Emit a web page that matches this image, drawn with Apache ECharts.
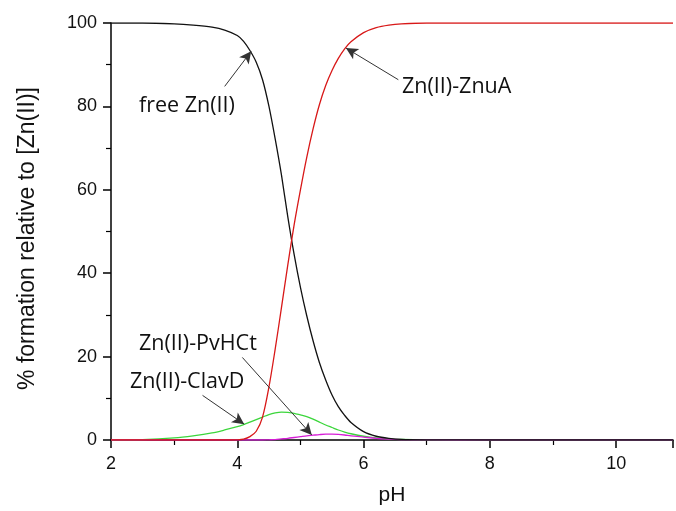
<!DOCTYPE html>
<html>
<head>
<meta charset="utf-8">
<script src="https://cdn.jsdelivr.net/npm/echarts@6/dist/echarts.min.js"></script>
<style>
  html, body { margin: 0; padding: 0; background: #fff; }
  #chart { width: 676px; height: 511px; }
</style>
</head>
<body>
<div id="chart"></div>
<script>
// pH sampling points
const phValues = [2, 2.5, 3, 3.3, 3.6, 3.8, 4.0, 4.1, 4.2, 4.3, 4.4, 4.5, 4.6, 4.7, 4.8, 4.9, 5.0, 5.1, 5.2, 5.3, 5.4, 5.5, 5.6, 5.7, 5.8, 6.0, 6.2, 6.4, 6.6, 7, 8, 9, 10, 10.9];
// % formation
const freeZn = [100, 100, 99.8, 99.5, 99.0, 98.3, 97.0, 95.6, 93.4, 90.6, 86.4, 80.1, 72.2, 63.5, 53.5, 44.5, 36.6, 29.8, 23.8, 18.6, 14.4, 10.8, 8.0, 5.9, 4.2, 2.0, 0.9, 0.4, 0.15, 0.05, 0, 0, 0, 0];
const znuA = [0, 0, 0, 0, 0, 0, 0.05, 0.2, 0.8, 2.1, 5.5, 12.6, 21.8, 31.8, 42.0, 51.6, 60.0, 67.8, 74.6, 80.4, 85.0, 88.6, 91.5, 93.8, 95.5, 97.7, 98.9, 99.5, 99.8, 100, 100, 100, 100, 100];
const clavD = [0, 0.1, 0.5, 1.0, 1.7, 2.4, 3.2, 3.7, 4.3, 4.9, 5.5, 6.1, 6.5, 6.7, 6.6, 6.4, 6.0, 5.6, 5.0, 4.3, 3.6, 3.0, 2.4, 1.9, 1.5, 0.9, 0.5, 0.3, 0.15, 0.05, 0, 0, 0, 0];
const pvHCt = [0, 0, 0, 0, 0, 0, 0, 0, 0, 0, 0, 0.05, 0.1, 0.25, 0.4, 0.6, 0.8, 1.0, 1.15, 1.3, 1.4, 1.4, 1.35, 1.2, 1.0, 0.7, 0.4, 0.2, 0.08, 0.02, 0, 0, 0, 0];
const xTicks = [2, 4, 6, 8, 10];
const yTicks = [0, 20, 40, 60, 80, 100];

// annotation arrows (tail -> head) in data coordinates
const arrows = [
	[[3.80, 84.8], [4.22, 93.2]],
	[[6.55, 86.4], [5.72, 94.0]],
	[[4.08, 19.8], [5.18, 1.2]],
	[[3.45, 10.7], [4.11, 3.8]]
];

const pair = arr => phValues.map((x, i) => [x, arr[i]]);

const chart = echarts.init(document.getElementById("chart"));

const axisCommon = {
	axisLine: { show: true, lineStyle: { color: "#000", width: 1.5 } },
	axisTick: { show: true, inside: false, length: 8, lineStyle: { color: "#000", width: 1.5 } },
	minorTick: { show: true, splitNumber: 2, length: 5, lineStyle: { color: "#000", width: 1.2 } },
	splitLine: { show: false },
	axisLabel: { color: "#111", fontFamily: "Liberation Sans", fontSize: 18 }
};

const lineSeries = (name, data, color) => ({
	name: name,
	type: "line",
	data: pair(data),
	smooth: 0.3,
	symbol: "none",
	lineStyle: { color: color, width: 1.3 },
	z: 3
});

const option = {
	animation: false,
	backgroundColor: "#fff",
	grid: { left: 111, right: 0, top: 23, bottom: 68 },
	xAxis: Object.assign({}, axisCommon, {
		type: "value",
		min: 2,
		max: 10.9,
		interval: 2,
		name: "pH",
		nameLocation: "middle",
		nameGap: 45,
		nameTextStyle: { color: "#111", fontFamily: "Liberation Sans", fontSize: 21 },
		axisLabel: Object.assign({}, axisCommon.axisLabel, {
			margin: 15,
			formatter: v => (xTicks.includes(v) ? String(v) : "")
		})
	}),
	yAxis: Object.assign({}, axisCommon, {
		type: "value",
		min: 0,
		max: 100,
		interval: 20,
		name: "% formation relative to [Zn(II)]",
		nameLocation: "middle",
		nameGap: 72,
		nameTextStyle: { color: "#111", fontFamily: "Liberation Sans", fontSize: 23, padding: [0, 14, 0, 0] },
		axisLabel: Object.assign({}, axisCommon.axisLabel, {
			margin: 14,
			formatter: v => (yTicks.includes(v) ? String(v) : "")
		})
	}),
	series: [
		lineSeries("Zn(II)-ClavD", clavD, "#3cd63c"),
		lineSeries("Zn(II)-PvHCt", pvHCt, "#d61ed6"),
		lineSeries("free Zn(II)", freeZn, "#111"),
		Object.assign(lineSeries("Zn(II)-ZnuA", znuA, "#d81818"), {
			markLine: {
				silent: true,
				symbol: ["none", "arrow"],
				symbolSize: [9, 12],
				label: { show: false },
				lineStyle: { color: "#333", width: 1, type: "solid" },
				data: arrows.map(a => [{ coord: a[0] }, { coord: a[1] }])
			}
		})
	],
	graphic: [
		{ type: "text", x: 139, y: 106, style: { text: "free Zn(II)", font: "21.5px 'Open Sans'", fill: "#111", verticalAlign: "middle" } },
		{ type: "text", x: 402, y: 87, style: { text: "Zn(II)-ZnuA", font: "21.5px 'Open Sans'", fill: "#111", verticalAlign: "middle" } },
		{ type: "text", x: 139, y: 344, style: { text: "Zn(II)-PvHCt", font: "21.5px 'Open Sans'", fill: "#111", verticalAlign: "middle" } },
		{ type: "text", x: 130, y: 382, style: { text: "Zn(II)-ClavD", font: "21.5px 'Open Sans'", fill: "#111", verticalAlign: "middle" } }
	]
};

chart.setOption(option);
</script>
</body>
</html>
